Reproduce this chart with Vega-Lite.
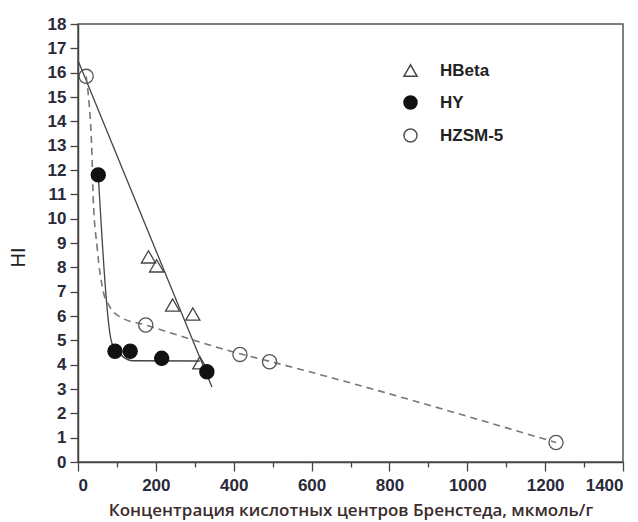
{
  "$schema": "https://vega.github.io/schema/vega-lite/v6.json",
  "width": 545,
  "height": 438,
  "autosize": "none",
  "padding": {"left": 78, "top": 24, "right": 15, "bottom": 60},
  "background": "white",
  "config": {
    "font": "Liberation Sans",
    "view": {"stroke": "#555", "strokeWidth": 1.5}
  },
  "datasets": {
    "points": [
      {"series": "HBeta", "x": 181, "y": 8.43},
      {"series": "HBeta", "x": 202, "y": 8.06},
      {"series": "HBeta", "x": 243, "y": 6.45},
      {"series": "HBeta", "x": 295, "y": 6.08},
      {"series": "HBeta", "x": 313, "y": 4.08},
      {"series": "HY", "x": 52, "y": 11.8},
      {"series": "HY", "x": 95, "y": 4.55},
      {"series": "HY", "x": 134, "y": 4.55},
      {"series": "HY", "x": 215, "y": 4.26},
      {"series": "HY", "x": 331, "y": 3.71},
      {"series": "HZSM-5", "x": 21, "y": 15.85},
      {"series": "HZSM-5", "x": 174, "y": 5.63},
      {"series": "HZSM-5", "x": 416, "y": 4.42},
      {"series": "HZSM-5", "x": 492, "y": 4.12},
      {"series": "HZSM-5", "x": 1228, "y": 0.8}
    ],
    "hbetaFit": [
      {"x": 0, "y": 16.5},
      {"x": 344, "y": 3.08}
    ],
    "hyFit": [
      {"x": 52, "y": 11.8},
      {"x": 87, "y": 4.89},
      {"x": 103, "y": 4.52},
      {"x": 116, "y": 4.32},
      {"x": 141, "y": 4.16},
      {"x": 313, "y": 4.15}
    ],
    "hzsmFit": [
      {"x": 21, "y": 15.85},
      {"x": 26, "y": 15.17},
      {"x": 36, "y": 12.54},
      {"x": 39, "y": 10.9},
      {"x": 49, "y": 8.84},
      {"x": 64, "y": 7.07},
      {"x": 82, "y": 6.37},
      {"x": 108, "y": 5.96},
      {"x": 174, "y": 5.63},
      {"x": 416, "y": 4.45},
      {"x": 492, "y": 4.14},
      {"x": 1228, "y": 0.8}
    ]
  },
  "encoding": {
    "x": {
      "field": "x",
      "type": "quantitative",
      "scale": {"domain": [0, 1400], "nice": false, "zero": false},
      "axis": {
        "title": "Концентрация кислотных центров Бренстеда, мкмоль/г",
        "titleFont": "Open Sans",
        "titleFontSize": 17,
        "titleFontWeight": 600,
        "titleColor": "#3a2c2c",
        "titleY": 48,
        "titleBaseline": "middle",
        "values": [0, 100, 200, 300, 400, 500, 600, 700, 800, 900, 1000, 1100, 1200, 1300, 1400],
        "format": "d",
        "labelExpr": "datum.value % 200 === 0 ? datum.label : ''",
        "labelOverlap": false,
        "labelFontSize": 17,
        "labelFontWeight": "bold",
        "labelColor": "#2a2a3a",
        "labelPadding": 6,
        "tickSize": {"condition": {"test": "datum.value % 200 === 0", "value": 9}, "value": 5},
        "tickColor": "#444",
        "tickWidth": 1.3,
        "domainColor": "#444",
        "domainWidth": 1.5,
        "grid": false
      }
    },
    "y": {
      "field": "y",
      "type": "quantitative",
      "scale": {"domain": [0, 18], "nice": false, "zero": false},
      "axis": {
        "title": "HI",
        "titleFontSize": 20,
        "titleFontWeight": "normal",
        "titleColor": "#222",
        "titleX": -60,
        "titleY": 233,
        "titleBaseline": "middle",
        "values": [0, 0.5, 1, 1.5, 2, 2.5, 3, 3.5, 4, 4.5, 5, 5.5, 6, 6.5, 7, 7.5, 8, 8.5, 9, 9.5, 10, 10.5, 11, 11.5, 12, 12.5, 13, 13.5, 14, 14.5, 15, 15.5, 16, 16.5, 17, 17.5, 18],
        "format": "d",
        "labelExpr": "datum.value % 1 === 0 ? datum.label : ''",
        "labelOverlap": false,
        "labelFontSize": 17,
        "labelFontWeight": "bold",
        "labelColor": "#2a2a3a",
        "labelPadding": 4,
        "tickSize": {"condition": {"test": "datum.value % 1 === 0", "value": 8}, "value": 3},
        "tickColor": "#444",
        "tickWidth": 1.3,
        "domainColor": "#444",
        "domainWidth": 1.5,
        "grid": false
      }
    }
  },
  "layer": [
    {
      "data": {"name": "hbetaFit"},
      "mark": {"type": "line", "color": "#444", "strokeWidth": 1.3},
      "encoding": {}
    },
    {
      "data": {"name": "hyFit"},
      "mark": {"type": "line", "color": "#444", "strokeWidth": 1.3, "interpolate": "monotone"},
      "encoding": {}
    },
    {
      "data": {"name": "hzsmFit"},
      "mark": {"type": "line", "color": "#777", "strokeWidth": 1.6, "strokeDash": [7, 5], "interpolate": "monotone"},
      "encoding": {}
    },
    {
      "data": {"name": "points"},
      "mark": {"type": "point", "filled": false, "size": 200, "strokeWidth": 1.3, "opacity": 1},
      "encoding": {
        "shape": {
          "field": "series",
          "type": "nominal",
          "scale": {"domain": ["HBeta", "HY", "HZSM-5"], "range": ["triangle-up", "circle", "circle"]},
          "legend": {
            "title": null,
            "orient": "none",
            "legendX": 324,
            "legendY": 38,
            "labelFontSize": 17,
            "labelFontWeight": "bold",
            "labelColor": "#222",
            "labelOffset": 21,
            "rowPadding": 12,
            "symbolSize": 170,
            "padding": 0
          }
        },
        "fill": {
          "field": "series",
          "type": "nominal",
          "scale": {"domain": ["HBeta", "HY", "HZSM-5"], "range": ["transparent", "#111", "transparent"]}
        },
        "stroke": {
          "field": "series",
          "type": "nominal",
          "scale": {"domain": ["HBeta", "HY", "HZSM-5"], "range": ["#444", "#111", "#555"]}
        }
      }
    }
  ]
}
